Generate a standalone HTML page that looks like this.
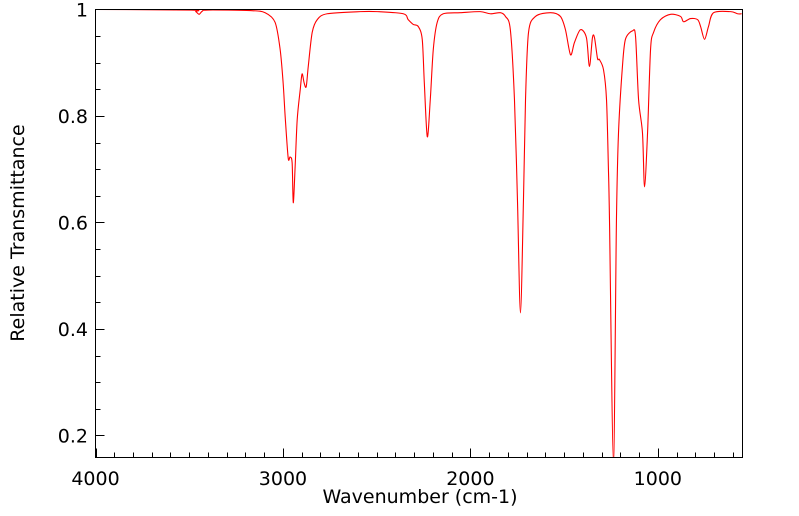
<!DOCTYPE html>
<html><head><meta charset="utf-8"><style>
body{margin:0;background:#fff;}
svg{display:block;font-family:"DejaVu Sans","Liberation Sans",sans-serif;}
</style></head><body>
<svg id="chart" width="799" height="516" viewBox="0 0 799 516">
<defs><clipPath id="clip"><rect x="95.5" y="9.5" width="647" height="448"/></clipPath></defs>
<g id="grid-ticks"></g>
<g id="labels"></g>
<path id="spectrum" fill="none" stroke="#ff0000" stroke-width="1.1" clip-path="url(#clip)"/>
<rect x="95.5" y="9.5" width="647" height="448" fill="none" stroke="#000" stroke-width="1"/>
<text x="420" y="503" text-anchor="middle" font-size="19">Wavenumber (cm-1)</text>
<text transform="translate(24,233) rotate(-90)" text-anchor="middle" font-size="19">Relative Transmittance</text>
</svg>
<script>
const wavenumbers=[4000,3490,3465,3447,3430,3400,3175,3095,3042,3015,2999,2988,2972,2962,2951,2945,2935,2924,2908,2898,2887,2876,2865,2844,2817,2764,2588,2497,2358,2332,2305,2278,2257,2246,2230,2214,2198,2177,2145,2054,1948,1894,1840,1813,1787,1765,1749,1733,1717,1706,1690,1653,1573,1520,1493,1466,1445,1413,1381,1365,1349,1338,1322,1312,1290,1274,1264,1258,1237,1221,1210,1189,1173,1135,1119,1103,1082,1071,1055,1039,1023,986,932,879,863,826,788,772,751,730,703,612,575,553];
const transmittance=[1.0,0.999,0.996,0.991,0.997,0.999,0.998,0.994,0.976,0.925,0.862,0.798,0.721,0.723,0.712,0.637,0.705,0.793,0.849,0.879,0.862,0.855,0.893,0.957,0.981,0.992,0.996,0.996,0.992,0.981,0.972,0.968,0.944,0.863,0.761,0.831,0.925,0.976,0.992,0.994,0.996,0.992,0.994,0.987,0.962,0.831,0.642,0.430,0.642,0.831,0.957,0.987,0.994,0.987,0.962,0.915,0.938,0.962,0.947,0.893,0.947,0.947,0.908,0.906,0.887,0.831,0.704,0.604,0.15,0.604,0.768,0.893,0.944,0.960,0.949,0.831,0.768,0.667,0.768,0.925,0.957,0.981,0.991,0.987,0.977,0.983,0.981,0.968,0.944,0.968,0.994,0.996,0.992,0.992];
const xTickLabels=[4000,3000,2000,1000];
const yTickLabels=[0.2,0.4,0.6,0.8,1];
const X0=95.5,X1=742.5,Y0=9.5,Y1=457.5;
const WMAX=4000,WMIN=548.5,TMAX=1,TMIN=0.1586;
function xs(w){return X0+(WMAX-w)/(WMAX-WMIN)*(X1-X0);}
function ys(t){return Y0+(TMAX-t)/(TMAX-TMIN)*(Y1-Y0);}
const NS="http://www.w3.org/2000/svg";
const tg=document.getElementById('grid-ticks'),lg=document.getElementById('labels');
function line(x1,y1,x2,y2,name){const l=document.createElementNS(NS,'line');
l.setAttribute('x1',x1);l.setAttribute('y1',y1);l.setAttribute('x2',x2);l.setAttribute('y2',y2);
l.setAttribute('stroke','#000');l.setAttribute('stroke-width','1');


tg.appendChild(l);}
for(let w=4000;w>WMIN;w-=100){const x=Math.round(xs(w))+0.5;const major=w%1000===0;line(x,Y1,x,Y1-(major?9:5),'x-tick');}
for(let t=0.2;t<=1.0001;t+=0.05){const y=Math.round(ys(t))+0.5;const major=Math.abs(t*5-Math.round(t*5))<1e-6;line(X0,y,X0+(major?9:5),y,'y-tick');}
xTickLabels.forEach(v=>{const t=document.createElementNS(NS,'text');t.setAttribute('x',xs(v));t.setAttribute('y',485);
t.setAttribute('text-anchor','middle');t.setAttribute('font-size','19');t.textContent=v;


lg.appendChild(t);});
yTickLabels.forEach(v=>{const t=document.createElementNS(NS,'text');t.setAttribute('x',88);t.setAttribute('y',ys(v)+7);
t.setAttribute('text-anchor','end');t.setAttribute('font-size','19');t.textContent=(v===1?'1':v.toFixed(1));


lg.appendChild(t);});
const pts=wavenumbers.map((w,i)=>[xs(w),ys(transmittance[i])]);
let d='M'+pts[0][0].toFixed(2)+','+pts[0][1].toFixed(2);
for(let i=0;i<pts.length-1;i++){
const p0=pts[Math.max(0,i-1)],p1=pts[i],p2=pts[i+1],p3=pts[Math.min(pts.length-1,i+2)];
const k=0.15;
const c1=[p1[0]+(p2[0]-p0[0])*k,p1[1]+(p2[1]-p0[1])*k];
const c2=[p2[0]-(p3[0]-p1[0])*k,p2[1]-(p3[1]-p1[1])*k];
d+=' C'+c1.map(v=>v.toFixed(2)).join(',')+' '+c2.map(v=>v.toFixed(2)).join(',')+' '+p2.map(v=>v.toFixed(2)).join(',');}
document.getElementById('spectrum').setAttribute('d',d);
</script>
</body></html>
